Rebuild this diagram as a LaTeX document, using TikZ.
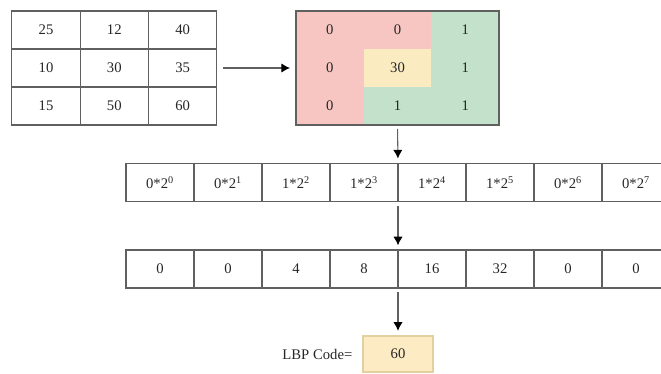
\documentclass[tikz,border=0pt]{standalone}
\usepackage{fontspec}
\setmainfont{Liberation Serif}
\usetikzlibrary{arrows.meta}

\definecolor{maskred}{HTML}{F7C6C2}
\definecolor{maskgreen}{HTML}{C4E2CB}
\definecolor{maskyellow}{HTML}{FBEBC1}
\definecolor{codefill}{HTML}{FDEBC4}
\definecolor{codeline}{HTML}{E3CFA0}
\definecolor{gridline}{HTML}{606060}

\begin{document}
\begin{tikzpicture}[
        x=0.75pt, y=-0.75pt,
        font=\fontsize{11}{13}\selectfont, text=black!85,
        cell/.style={draw=gridline, line width=0.8pt, rectangle, minimum width=51.25pt, minimum height=28.5pt, inner sep=0pt, outer sep=0pt},
        mcell/.style={rectangle, minimum width=50.75pt, minimum height=28.5pt, inner sep=0pt, outer sep=0pt},
        bit/.style={cell, minimum width=51pt, minimum height=29pt},
        flow/.style={draw=gridline, line width=0.8pt, -{Latex[length=6.5pt, width=7pt, color=black]}, shorten <=3pt, shorten >=3.5pt}
    ]
    \useasboundingbox (0,0) rectangle (661,374);

    % Input neighbourhood
    \foreach \r/\row in {1/{25,12,40}, 2/{10,30,35}, 3/{15,50,60}}
        \foreach \v [count=\c] in \row
            \node[cell] (in-\r-\c) at ({46+68.33*(\c-1)}, {30+38*(\r-1)}) {\v};

    % Thresholded mask (fills only, one outer border)
    \foreach \r/\row in {1/{0/maskred, 0/maskred, 1/maskgreen}, 2/{0/maskred, 30/maskyellow, 1/maskgreen}, 3/{0/maskred, 1/maskgreen, 1/maskgreen}}
        \foreach \v/\col [count=\c] in \row
            \node[mcell, fill=\col] (mask-\r-\c) at ({296+67.67*(\c-0.5)}, {30+38*(\r-1)}) {\v};
    \draw[gridline, line width=0.8pt] (mask-1-1.north west) rectangle (mask-3-3.south east);

    % Weights
    \foreach \e [count=\i, evaluate=\i as \p using int(\i-1)] in {0,0,1,1,1,1,0,0}
        \node[bit] (w-\i) at ({126+68*(\i-0.5)}, 182.5) {\e*2\textsuperscript{\p}};

    % Weighted values
    \foreach \e [count=\i] in {0,0,4,8,16,32,0,0}
        \node[bit, minimum height=28.5pt] (v-\i) at ({126+68*(\i-0.5)}, 269) {\e};

    % Result
    \node[draw=codeline, fill=codefill, line width=0.8pt, minimum width=52.5pt, minimum height=27pt] (lbp) at (398,354) {60};
    \node[anchor=east] (lbplabel) at (357,354) {LBP Code=};

    % Arrows
    \draw[flow, shorten <=4.5pt, shorten >=4.5pt] (in-2-3.east) -- (mask-2-1.west);
    \draw[flow] (mask-3-2.south) -- (w-4.north east);
    \draw[flow] (w-4.south east) -- (v-4.north east);
    \draw[flow] (v-4.south east) -- (lbp.north);

\end{tikzpicture}
\end{document}
